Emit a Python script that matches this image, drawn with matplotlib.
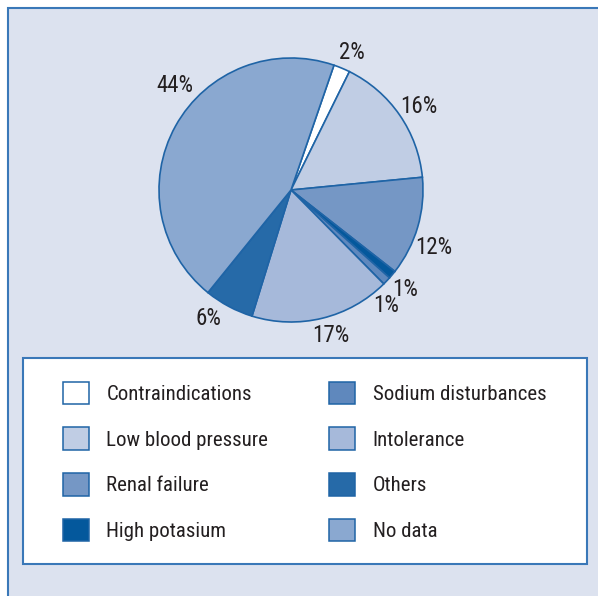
import matplotlib.pyplot as plt
from matplotlib import font_manager
from matplotlib.patches import Rectangle

# Elegir una fuente estrecha tipo Helvetica Condensed
disponibles = {f.name for f in font_manager.fontManager.ttflist}
preferidas = ['Nimbus Sans Narrow', 'Liberation Sans Narrow', 'Roboto Condensed',
              'Archivo Narrow', 'PT Sans Narrow', 'Fira Sans Condensed', 'Liberation Sans']
fuente = next(f for f in preferidas if f in disponibles)
plt.rcParams['font.family'] = [fuente, 'DejaVu Sans']

# Datos del gráfico (orden horario desde arriba)
categorias = ['Contraindications', 'Low blood pressure', 'Renal failure', 'High potasium',
              'Sodium disturbances', 'Intolerance', 'Others', 'No data']
valores = [2, 16, 12, 1, 1, 17, 6, 44]
colores = ['#ffffff', '#c0cde4', '#7597c5', '#04589c',
           '#5f88bd', '#a6b9da', '#266aa8', '#8aa8d0']

W, H = 598, 596
fig = plt.figure(figsize=(W / 100, H / 100), dpi=100)
fig.patch.set_facecolor('white')

azul = '#1f64a6'
texto = '#231f20'

# Fondo del panel
fig.patches.append(Rectangle((8 / W, -0.1), 1.2, (H - 8) / H + 0.1, transform=fig.transFigure,
                             facecolor='#dce2ef', edgecolor='#3a78b8', linewidth=1.5, zorder=0))
# Caja de la leyenda
fig.patches.append(Rectangle((23 / W, 1 - 564 / H), (587 - 23) / W, (564 - 358) / H,
                             transform=fig.transFigure, facecolor='white', edgecolor='#3a78b8',
                             linewidth=1.5, zorder=1))

cx, cy, r = 291, 190, 132
ax = fig.add_axes([(cx - r) / W, 1 - (cy + r) / H, 2 * r / W, 2 * r / H], zorder=3)
wedges, textos = ax.pie(valores, labels=[f'{v}%' for v in valores], colors=colores,
                        startangle=71, counterclock=False, labeldistance=1.15,
                        wedgeprops=dict(edgecolor=azul, linewidth=1.2),
                        textprops=dict(fontsize=16.5, color=texto))

# posiciones de las etiquetas como en el original (unidades del radio)
pos_etiquetas = [(0.46, 1.045), (0.97, 0.636), (1.083, -0.432), (0.865, -0.75),
                 (0.72, -0.872), (0.303, -1.106), (-0.629, -0.97), (-0.879, 0.788)]
for t, p in zip(textos, pos_etiquetas):
    t.set_position(p)
    t.set_ha('center')
    t.set_va('center')
ax.set_xlim(-1, 1)
ax.set_ylim(-1, 1)
ax.set_aspect('equal')

leg = fig.legend(wedges, categorias, ncol=2, loc='upper left',
                 bbox_to_anchor=(44 / W, 1 - 363 / H), frameon=False,
                 fontsize=15, handlelength=1.25, handleheight=1.3,
                 handletextpad=0.85, labelspacing=1.1, columnspacing=2.9,
                 labelcolor=texto)
leg.set_zorder(4)
for h in leg.legend_handles:
    h.set_edgecolor(azul)
    h.set_linewidth(1.1)

fig.savefig('out.png', dpi=100)
